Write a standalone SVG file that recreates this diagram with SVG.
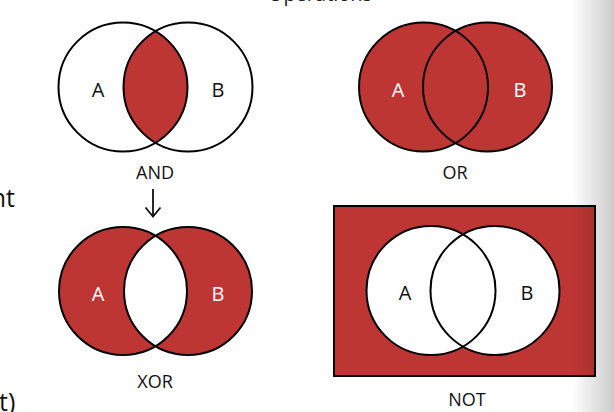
<svg xmlns="http://www.w3.org/2000/svg" width="614" height="412" viewBox="0 0 614 412">
<style>
.red{fill:#be3634}
.wh{fill:#ffffff}
.ln{fill:none;stroke:#000;stroke-width:2}
.lbl{font-family:"Open Sans","Liberation Sans",sans-serif;font-size:20px;text-anchor:middle}
.cap{font-family:"Open Sans","Liberation Sans",sans-serif;font-size:18px;text-anchor:middle;fill:#111}
.side{font-family:"Open Sans","Noto Sans",sans-serif;font-size:25px;fill:#111}
</style>
<defs>
<linearGradient id="shade" x1="0" y1="0" x2="1" y2="0">
<stop offset="0" stop-color="#000" stop-opacity="0"/>
<stop offset="1" stop-color="#000" stop-opacity="0.2"/>
</linearGradient>
</defs>
<rect width="614" height="412" fill="#fff"/>
<text x="320" y="1.2" style="font-family:'Open Sans',sans-serif;font-size:20px;text-anchor:middle;fill:#222">Operations</text>
<text class="side" x="15" y="207" text-anchor="end">nt</text>
<text class="side" x="-1" y="411">t)</text>

<g id="and">
<circle cx="123" cy="87" r="64.5" class="wh"/>
<circle cx="188" cy="87" r="64.5" class="wh"/>
<path class="red" d="M155.5,31.1 A64.5,64.5 0 0,1 155.5,142.9 A64.5,64.5 0 0,1 155.5,31.1 Z"/>
<circle cx="123" cy="87" r="64.5" class="ln"/>
<circle cx="188" cy="87" r="64.5" class="ln"/>
<text class="lbl" x="98" y="97" fill="#111">A</text>
<text class="lbl" x="218" y="97" fill="#111">B</text>
<text class="cap" x="155" y="179">AND</text>
</g>

<g id="or">
<circle cx="423.5" cy="87" r="64.5" class="red"/>
<circle cx="487.5" cy="87" r="64.5" class="red"/>
<circle cx="423.5" cy="87" r="64.5" class="ln"/>
<circle cx="487.5" cy="87" r="64.5" class="ln"/>
<text class="lbl" x="398" y="97" fill="#fff">A</text>
<text class="lbl" x="520" y="97" fill="#fff">B</text>
<text class="cap" x="455" y="179">OR</text>
</g>

<g id="xor">
<circle cx="123" cy="291" r="64" class="red"/>
<circle cx="188" cy="291" r="64" class="red"/>
<path class="wh" d="M155.5,235.6 A64,64 0 0,1 155.5,346.4 A64,64 0 0,1 155.5,235.6 Z"/>
<circle cx="123" cy="291" r="64" class="ln"/>
<circle cx="188" cy="291" r="64" class="ln"/>
<text class="lbl" x="98" y="301" fill="#fff">A</text>
<text class="lbl" x="218" y="301" fill="#fff">B</text>
<text class="cap" x="155" y="388">XOR</text>
</g>

<g id="not">
<rect x="334" y="206" width="261" height="170" class="red" stroke="#000" stroke-width="2"/>
<circle cx="431" cy="290.5" r="64.5" class="wh"/>
<circle cx="495" cy="290.5" r="64.5" class="wh"/>
<circle cx="431" cy="290.5" r="64.5" class="ln"/>
<circle cx="495" cy="290.5" r="64.5" class="ln"/>
<text class="lbl" x="405" y="300" fill="#111">A</text>
<text class="lbl" x="527" y="300" fill="#111">B</text>
<text class="cap" x="467" y="406">NOT</text>
</g>

<g id="connectors">
<path d="M153,189 V216 M145.5,207.5 L153,216.5 L160.5,207.5" fill="none" stroke="#111" stroke-width="1.8"/>
</g>

<rect x="572" y="0" width="42" height="412" fill="url(#shade)"/>
</svg>
